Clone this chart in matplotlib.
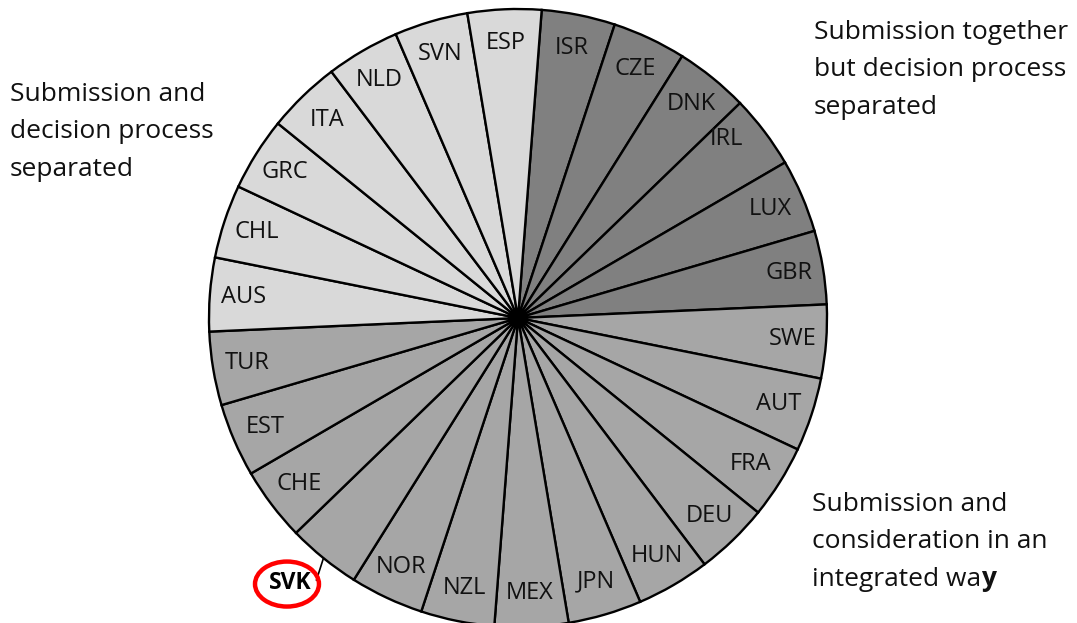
import matplotlib
matplotlib.use("Agg")
import matplotlib.pyplot as plt
from matplotlib.patches import Ellipse, Circle
import numpy as np

plt.rcParams['font.family'] = ['Open Sans', 'DejaVu Sans']

# ---- data ----
group_names = [
    "Submission together but decision process separated",
    "Submission and consideration in an integrated way",
    "Submission and decision process separated",
]
group_members = [
    ["ISR", "CZE", "DNK", "IRL", "LUX", "GBR"],
    ["SWE", "AUT", "FRA", "DEU", "HUN", "JPN", "MEX", "NZL", "NOR", "SVK",
     "CHE", "EST", "TUR"],
    ["AUS", "CHL", "GRC", "ITA", "NLD", "SVN", "ESP"],
]
slice_values = [1, 1, 1, 1, 1, 1,
                1, 1, 1, 1, 1, 1, 1, 1, 1, 1, 1, 1, 1,
                1, 1, 1, 1, 1, 1, 1]
group_colors = ["#808080", "#a6a6a6", "#d9d9d9"]
highlight = "SVK"

countries = [c for g in group_members for c in g]
colors = [group_colors[i] for i, g in enumerate(group_members) for _ in g]

W, H = 1077, 623
fig = plt.figure(figsize=(W / 100, H / 100), dpi=100)
cx, cy, r = 518, 318, 309
ax = fig.add_axes([(cx - r) / W, (H - cy - r) / H, 2 * r / W, 2 * r / H])

wedges, _ = ax.pie(slice_values, colors=colors, startangle=85.6,
                   counterclock=False, radius=1,
                   wedgeprops=dict(edgecolor="black", linewidth=1.7))
ax.set_xlim(-1, 1)
ax.set_ylim(-1, 1)
ax.set_aspect("equal")
ax.axis("off")
ax.add_patch(Circle((0, 0), 0.027, color="black", zorder=5))

txt_col = "#111111"
label_nudge = {"IRL": 3.5}
for w, name in zip(wedges, countries):
    mid = np.deg2rad((w.theta1 + w.theta2) / 2 + label_nudge.get(name, 0))
    if name == highlight:
        x0, y0 = np.cos(mid), np.sin(mid)
        tx, ty = -0.738, -0.858
        ax.annotate(name, xy=(x0, y0), xytext=(tx, ty), ha="center",
                    va="center", fontsize=16.5, fontweight="bold",
                    color="black",
                    arrowprops=dict(arrowstyle="-", color="black", lw=1.2,
                                    shrinkA=0, shrinkB=0,
                                    relpos=(1.12, 0.62)),
                    annotation_clip=False, zorder=6)
        ax.add_patch(Ellipse((-0.7476, -0.861), 0.207, 0.1456, fill=False,
                             edgecolor="#ff0000", lw=3.2, clip_on=False,
                             zorder=7))
        continue
    rr = 0.89
    ax.text(rr * np.cos(mid), rr * np.sin(mid), name, ha="center",
            va="center", fontsize=17, color=txt_col, zorder=6)

# ---- group annotations ----
ann_fs = 19
def fig_line(x, y, s, **kw):
    return fig.text(x / W, 1 - y / H, s, ha="left", va="baseline",
                    fontsize=ann_fs, color=txt_col, **kw)

lines_tr = ["Submission together", "but decision process", "separated"]
for i, s in enumerate(lines_tr):
    fig_line(814, 39 + 37.5 * i, s)

lines_l = ["Submission and", "decision process", "separated"]
for i, s in enumerate(lines_l):
    fig_line(10, 101 + 37.5 * i, s)

lines_br = ["Submission and", "consideration in an", "integrated wa"]
last = None
for i, s in enumerate(lines_br):
    last = fig_line(812, 511 + 37.5 * i, s)
fig.add_artist(plt.Annotation("y", xy=(1, 0), xycoords=last,
                              xytext=(-0.3, 0), textcoords="offset points",
                              ha="left", va="bottom", fontsize=ann_fs,
                              fontweight="bold", color=txt_col))

fig.savefig("out.png", dpi=100)
